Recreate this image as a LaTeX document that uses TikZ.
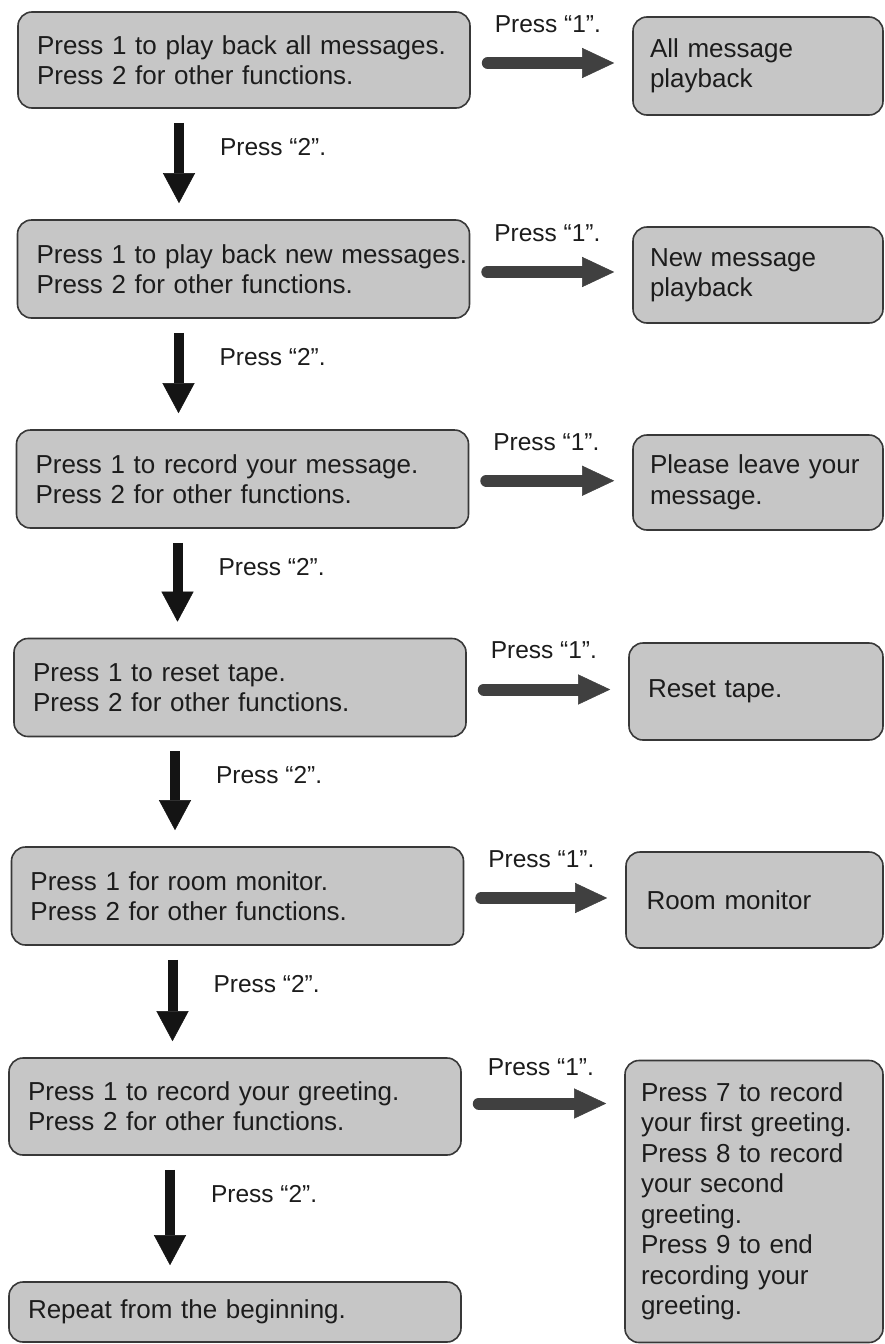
\documentclass[tikz,border=0pt]{standalone}
\usepackage{fontspec}
\setmainfont{Liberation Sans}
\usetikzlibrary{arrows.meta}
\definecolor{boxfill}{HTML}{C6C6C6}
\definecolor{boxline}{HTML}{383838}
\definecolor{harrowc}{HTML}{404040}
\definecolor{txt}{HTML}{1C1C1C}
\begin{document}
\begin{tikzpicture}[x=1pt,y=-1pt,
  leftbox/.style={draw=boxline, line width=1.6pt, fill=boxfill, rounded corners=14pt,
    text width=414pt, inner xsep=19pt, inner ysep=0pt, align=left,
    minimum height=98pt, font=\fontsize{26}{30}\selectfont, text=txt},
  rightbox/.style={draw=boxline, line width=1.6pt, fill=boxfill, rounded corners=14pt,
    text width=216pt, inner xsep=17pt, inner ysep=0pt, align=left,
    minimum height=96pt, font=\fontsize{26}{30.5}\selectfont, text=txt},
  harrow/.style={draw=harrowc, line width=12pt, line cap=round,
    -{Triangle[length=32pt,width=30pt,line width=0.5pt]}, shorten <=17pt, shorten >=18pt},
  varrow/.style={draw=black!92, line width=10pt,
    -{Triangle[length=30pt,width=32pt,line width=0.5pt]}, shorten <=14pt, shorten >=16pt},
  lbl/.style={font=\fontsize{24.5}{28}\selectfont, text=txt, inner sep=0pt, anchor=west}
]
\fill[white] (0,0) rectangle (885,1344);
\useasboundingbox (0,0) rectangle (885,1344);

% left column
\node[leftbox, minimum height=96pt] (b1) at (244,60) {Press 1 to play back all messages.\\Press 2 for other functions.};
\node[leftbox] (b2) at (243.5,269) {\mbox{Press 1 to play back new messages.}\\Press 2 for other functions.};
\node[leftbox] (b3) at (242.5,479) {Press 1 to record your message.\\Press 2 for other functions.};
\node[leftbox] (b4) at (240,687.5) {Press 1 to reset tape.\\Press 2 for other functions.};
\node[leftbox] (b5) at (237.5,896) {Press 1 for room monitor.\\Press 2 for other functions.};
\node[leftbox, minimum height=97pt] (b6) at (235,1106.5) {Press 1 to record your greeting.\\Press 2 for other functions.};
\node[leftbox, minimum height=60pt] (b7) at (235,1312) {Repeat from the beginning.};

% right column
\node[rightbox, minimum height=98pt] (r1) at (758,66) {All message\\playback};
\node[rightbox] (r2) at (758,275) {New message\\playback};
\node[rightbox, minimum height=95pt] (r3) at (758,482.5) {Please leave your\\message.};
\node[rightbox, minimum width=254pt, minimum height=97pt] (r4) at (756,691.5) {Reset tape.};
\node[rightbox, minimum width=257pt] (r5) at (754.5,900) {Room monitor};
\node[rightbox, text width=226pt, inner xsep=16pt, minimum height=282pt] (r6) at (754,1201.5)
  {Press 7 to record\\your first greeting.\\Press 8 to record\\your second\\greeting.\\Press 9 to end\\recording your\\greeting.};

% horizontal arrows
\foreach \i in {1,...,5}{
  \path (b\i.east) -- (r\i.west) coordinate[midway] (m\i);
  \draw[harrow] (b\i.east |- m\i) -- (r\i.west |- m\i)
    node[lbl, at start, xshift=18pt, yshift=39pt] {Press “1”.};
}
\draw[harrow] ([yshift=3pt]b6.east) -- ([yshift=3pt]r6.west |- b6.east)
  node[lbl, at start, xshift=20pt, yshift=36pt] {Press “1”.};

% vertical arrows
\foreach \i/\j in {1/2,2/3,3/4,4/5,5/6,6/7}{
  \draw[varrow] ([xshift=-65pt]b\i.south) -- ([xshift=-65pt]b\i.south |- b\j.north)
    node[lbl, at start, xshift=36pt, yshift=-38pt] {Press “2”.};
}
\end{tikzpicture}
\end{document}
